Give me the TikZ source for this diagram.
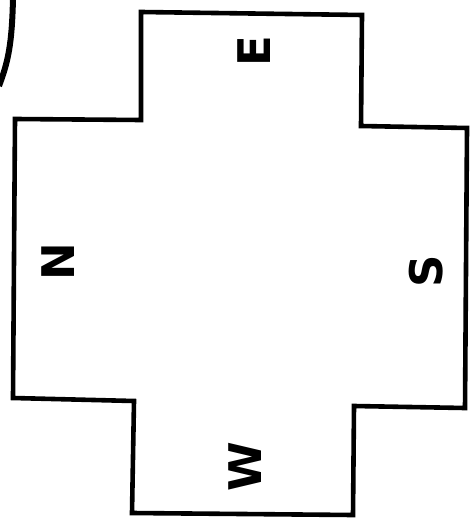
\documentclass[tikz,border=0pt]{standalone}
\usepackage{fontspec}
\setsansfont{DejaVu Sans}
\begin{document}
\begin{tikzpicture}[x=1pt, y=-1pt]
\tikzset{edge/.style={line width=4.6pt, line join=miter}, letter/.style={font=\sffamily\bfseries\fontsize{45}{45}\selectfont, rotate=90, inner sep=0pt}}
\useasboundingbox (0,0) rectangle (474,529);
 % cross outline
 \draw [edge] (141,12) -- (362,15) -- (361,126) -- (467,128) -- (465,408) -- (354,406) -- (353,515) -- (132,513) -- (134,401) -- (13,398) -- (15,119) -- (141,120) -- cycle;
 % piece of the next shape
 \draw [edge, line width=6pt] (13,-2) .. controls (12,45) and (8,62) .. (-1,86);
 \node [letter] (east) at (254,51) {E};
 \node [letter] (north) at (58,262) {N};
 \node [letter] (south) at (426,271) {S};
 \node [letter] (west) at (245,467) {W};
\end{tikzpicture}
\end{document}
